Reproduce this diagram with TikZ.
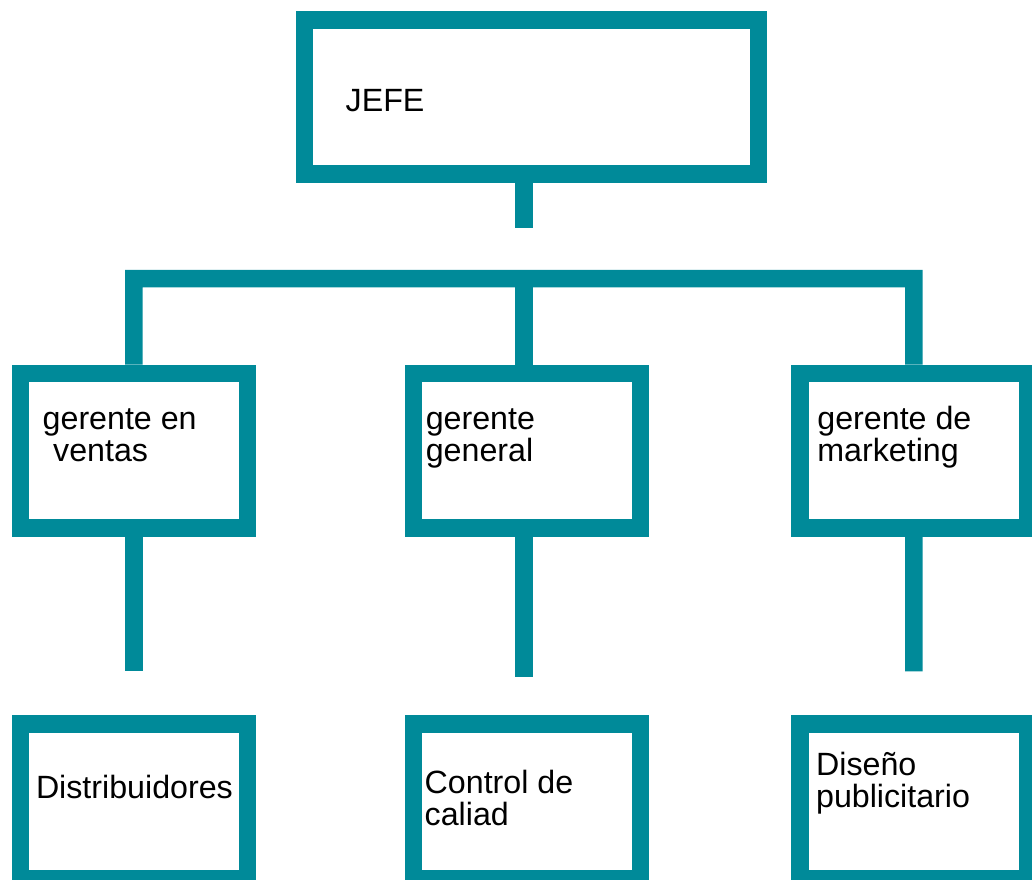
\documentclass[tikz,border=0pt]{standalone}
\usepackage{fontspec}
\setmainfont{Liberation Sans}
\definecolor{teal1}{RGB}{0,138,153}
\begin{document}
\begin{tikzpicture}[x=1pt,y=-1pt,
  box/.style={draw=teal1,line width=17.5pt,rectangle,inner sep=0pt,minimum width=#1,minimum height=154.5pt},
  link/.style={draw=teal1,line width=17.5pt,line join=miter,line cap=butt},
  lbl/.style={anchor=base west,inner sep=0pt,align=left,font=\fontsize{32.2}{32}\selectfont}]
\useasboundingbox (0,0) rectangle (1032,879);
\clip (0,0) rectangle (1032,879);
% boxes (centre lines)
\node[box=454.4pt,minimum height=154.4pt] (jefe) at (531.5,97) {};
\node[box=227pt] (gv) at (133.8,450.65) {};
\node[box=227pt] (gg) at (527,450.65) {};
\node[box=227.3pt] (mk) at (913.85,450.65) {};
\node[box=227pt] (di) at (133.8,801.45) {};
\node[box=227pt] (cc) at (527,801.45) {};
\node[box=227.3pt] (dp) at (913.85,801.45) {};
% connector ends
\coordinate (jend) at (524,227.7);
\coordinate (barl) at (133.8,278.7);
\coordinate (barr) at (913.9,278.7);
\coordinate (barm) at (524,278.7);
\coordinate (gvend) at (133.8,671.3);
\coordinate (ggend) at (524,677.3);
\coordinate (mkend) at (913.9,671.3);
% connectors
\draw[link] (jefe.south -| jend) -- (jend);
\draw[link] (gv.north) -- (barl) -- (barr) -- (mk.north);
\draw[link] (barm) -- (gg.north -| barm);
\draw[link] (gv.south) -- (gvend);
\draw[link] (gg.south -| ggend) -- (ggend);
\draw[link] (mk.south) -- (mkend);
% labels (two-line labels anchored at the baseline of their second line)
\node[lbl] (tjefe) at (345.5,111.5) {JEFE};
\node[lbl] (tgv) at (42.5,461) {gerente en\\\hspace*{10.5pt}ventas};
\node[lbl] (tgg) at (425.6,461) {gerente\\general};
\node[lbl] (tmk) at (817.2,461) {gerente de\\marketing};
\node[lbl] (tdi) at (35.8,798) {Distribuidores};
\node[lbl] (tcc) at (424.5,825) {Control de\\caliad};
\node[lbl] (tdp) at (815.9,807.5) {Diseño\\publicitario};
\end{tikzpicture}
\end{document}
